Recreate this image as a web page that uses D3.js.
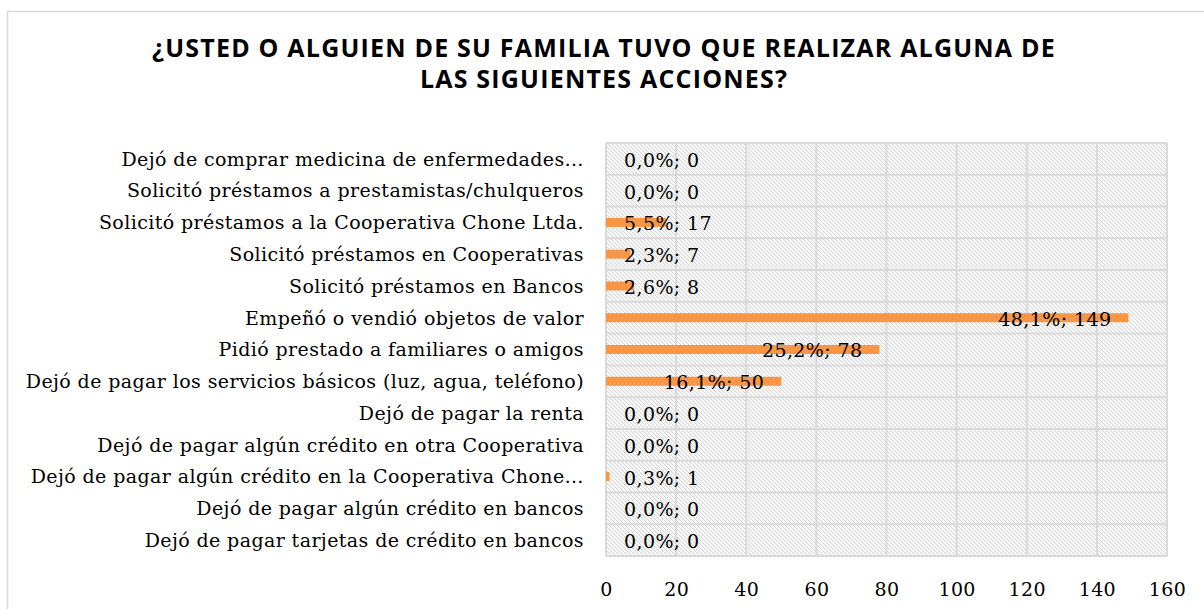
<!DOCTYPE html>
<html>
<head>
<meta charset="utf-8">
<script src="https://cdn.jsdelivr.net/npm/d3@7"></script>
<style>
    body { margin: 0; background: #ffffff; }
    svg { display: block; }
    .chart__title { font-family: 'Open Sans', 'Noto Sans', sans-serif; font-weight: 700; font-size: 25px; letter-spacing: 1.2px; fill: #000; }
    .chart__label, .chart__value, .chart__tick { font-family: 'DejaVu Serif', serif; font-size: 19px; letter-spacing: 0.4px; fill: #000; }
</style>
</head>
<body>
<svg id="chart" width="1204" height="609"></svg>
<script>
// data, top row first
const categories = [
    'Dejó de comprar medicina de enfermedades…',
    'Solicitó préstamos a prestamistas/chulqueros',
    'Solicitó préstamos a la Cooperativa Chone Ltda.',
    'Solicitó préstamos en Cooperativas',
    'Solicitó préstamos en Bancos',
    'Empeñó o vendió objetos de valor',
    'Pidió prestado a familiares o amigos',
    'Dejó de pagar los servicios básicos (luz, agua, teléfono)',
    'Dejó de pagar la renta',
    'Dejó de pagar algún crédito en otra Cooperativa',
    'Dejó de pagar algún crédito en la Cooperativa Chone…',
    'Dejó de pagar algún crédito en bancos',
    'Dejó de pagar tarjetas de crédito en bancos'
];
const counts = [0, 0, 17, 7, 8, 149, 78, 50, 0, 0, 1, 0, 0];
const percents = ['0,0%', '0,0%', '5,5%', '2,3%', '2,6%', '48,1%', '25,2%', '16,1%', '0,0%', '0,0%', '0,3%', '0,0%', '0,0%'];
const xTicks = [0, 20, 40, 60, 80, 100, 120, 140, 160];
const titleLines = [
    '¿USTED O ALGUIEN DE SU FAMILIA TUVO QUE REALIZAR ALGUNA DE',
    'LAS SIGUIENTES ACCIONES?'
];

const svg = d3.select('#chart');
const plot = { left: 606, right: 1167, top: 143, bottom: 556 };
const gridColor = '#d9d9d9';
const barColor = '#f79646';

// outer frame
svg.append('rect')
    .attr('x', 7.5).attr('y', 11.5)
    .attr('width', 1220).attr('height', 620)
    .attr('fill', 'none')
    .attr('stroke', gridColor)
    .attr('stroke-width', 1.5);

// hatch fill for plot area
const pattern = svg.append('defs')
    .append('pattern')
    .attr('id', 'hatch')
    .attr('patternUnits', 'userSpaceOnUse')
    .attr('width', 4).attr('height', 4);
pattern.append('rect').attr('width', 4).attr('height', 4).attr('fill', '#fff');
pattern.append('path')
    .attr('d', 'M-1,-1 L5,5 M-1,3 L1,5 M3,-1 L5,1')
    .attr('stroke', '#d6d6d6')
    .attr('stroke-width', 1.1);

const x = d3.scaleLinear().domain([0, 160]).range([plot.left, plot.right]);
const y = d3.scaleBand().domain(categories).range([plot.top, plot.bottom]);

svg.append('rect')
    .attr('x', plot.left).attr('y', plot.top)
    .attr('width', plot.right - plot.left).attr('height', plot.bottom - plot.top)
    .attr('fill', 'url(#hatch)');

// grid
const rowEdges = categories.map(c => y(c)).concat([plot.bottom]);
svg.append('g')
    .selectAll('line')
    .data(rowEdges)
    .join('line')
    .attr('x1', plot.left).attr('x2', plot.right)
    .attr('y1', d => d).attr('y2', d => d)
    .attr('stroke', gridColor).attr('stroke-width', 2);

svg.append('g')
    .selectAll('line')
    .data(xTicks)
    .join('line')
    .attr('x1', d => x(d)).attr('x2', d => x(d))
    .attr('y1', plot.top).attr('y2', plot.bottom)
    .attr('stroke', gridColor).attr('stroke-width', 2);

// bars
const barH = 9;
svg.append('g')
    .selectAll('rect')
    .data(counts)
    .join('rect')
    .attr('x', x(0))
    .attr('y', (d, i) => y(categories[i]) + y.bandwidth() / 2 - barH / 2)
    .attr('width', d => x(d) - x(0))
    .attr('height', barH)
    .attr('fill', barColor);

// value labels (inside end, clamped to the base)
const valueLabels = svg.append('g')
    .selectAll('text')
    .data(counts)
    .join('text')
    .attr('class', 'chart__value')
    .attr('y', (d, i) => y(categories[i]) + y.bandwidth() / 2)
    .attr('dy', '0.42em')
    .text((d, i) => `${percents[i]}; ${d}`);

valueLabels.each(function(d) {
    const w = this.getComputedTextLength();
    const start = Math.max(x(0) + 18, x(d) - 17 - w);
    d3.select(this).attr('x', start);
});

// category labels
svg.append('g')
    .selectAll('text')
    .data(categories)
    .join('text')
    .attr('class', 'chart__label')
    .attr('x', 584)
    .attr('y', d => y(d) + y.bandwidth() / 2)
    .attr('dy', '0.36em')
    .attr('text-anchor', 'end')
    .text(d => d);

// x axis
const axis = d3.axisBottom(x).tickValues(xTicks).tickSize(0).tickPadding(0);
const axisG = svg.append('g')
    .attr('transform', `translate(0, ${plot.bottom + 26})`)
    .call(axis);
axisG.select('.domain').remove();
axisG.selectAll('text')
    .attr('class', 'chart__tick')
    .attr('dy', '0.71em')
    .attr('fill', '#000');

// title
svg.append('g')
    .selectAll('text')
    .data(titleLines)
    .join('text')
    .attr('class', 'chart__title')
    .attr('x', 604)
    .attr('y', (d, i) => 57 + i * 31)
    .attr('text-anchor', 'middle')
    .text(d => d);
</script>
</body>
</html>
